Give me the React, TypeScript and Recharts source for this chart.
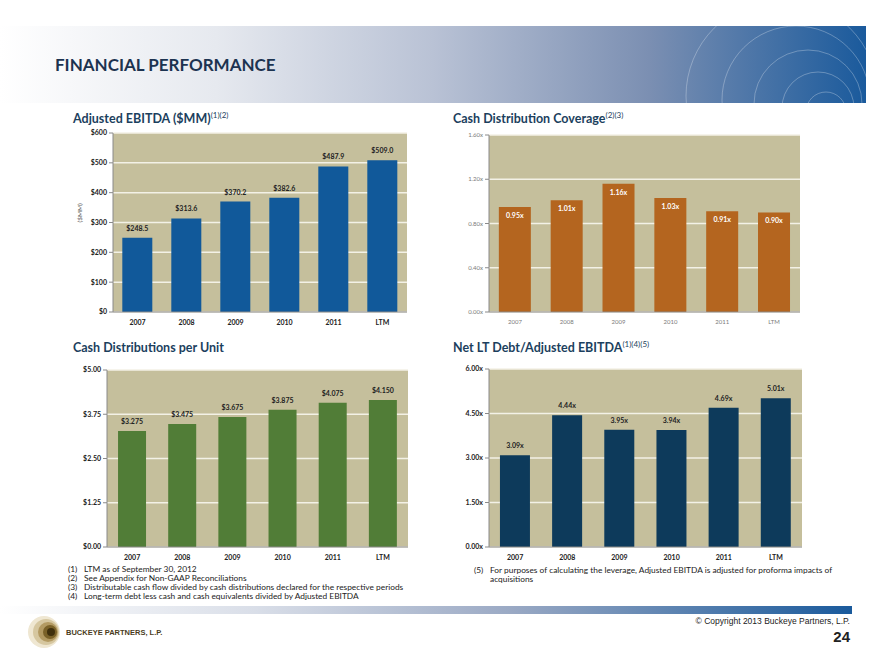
import React from 'react';
import { BarChart, Bar, XAxis, YAxis, CartesianGrid, LabelList } from 'recharts';

const categories = ['2007', '2008', '2009', '2010', '2011', 'LTM'];
const ebitdaValues = [248.5, 313.6, 370.2, 382.6, 487.9, 509.0];
const coverageValues = [0.95, 1.01, 1.16, 1.03, 0.91, 0.9];
const distributionValues = [3.275, 3.475, 3.675, 3.875, 4.075, 4.15];
const leverageValues = [3.09, 4.44, 3.95, 3.94, 4.69, 5.01];

const ebitdaTicks = [0, 100, 200, 300, 400, 500, 600];
const coverageTicks = [0, 0.4, 0.8, 1.2, 1.6];
const distributionTicks = [0, 1.25, 2.5, 3.75, 5];
const leverageTicks = [0, 1.5, 3, 4.5, 6];

const footnotesLeft = [
  ['(1)', 'LTM as of September 30, 2012'],
  ['(2)', 'See Appendix for Non-GAAP Reconciliations'],
  ['(3)', 'Distributable cash flow divided by cash distributions declared for the respective periods'],
  ['(4)', 'Long-term debt less cash and cash equivalents divided by Adjusted EBITDA'],
];
const footnoteRight = ['(5)', 'For purposes of calculating the leverage, Adjusted EBITDA is adjusted for proforma impacts of', 'acquisitions'];

const PLOT_BG = '#C5BF9C';
const GRID = '#F3F1E6';
const FONT = 'Lato, "Open Sans", sans-serif';

type PanelProps = {
  values: number[];
  ticks: number[];
  color: string;
  left: number;
  top: number;
  margin: { top: number; right: number; bottom: number; left: number };
  yWidth: number;
  gap: string;
  tickFmt: (v: number) => string;
  labelFmt: (v: number) => string;
  labelInside?: boolean;
  light?: boolean;
  yLabel?: string;
};

function Panel(p: PanelProps) {
  const data = categories.map((c, i) => ({ name: c, value: p.values[i] }));
  const tickStyle = p.light
    ? { fontSize: 6, fill: '#7a7a7a', fontFamily: FONT }
    : { fontSize: 7, fill: '#222', fontWeight: 700, fontFamily: FONT };
  return (
    <div style={{ position: 'absolute', left: p.left, top: p.top }}>
      <BarChart width={380} height={215} data={data} margin={p.margin} barCategoryGap={p.gap}>
        <CartesianGrid fill={PLOT_BG} vertical={false} stroke={GRID} strokeWidth={1.5} />
        <XAxis
          dataKey="name"
          tickLine={false}
          axisLine={{ stroke: '#8a8a8a' }}
          tick={tickStyle}
          height={18}
          interval={0}
        />
        <YAxis
          domain={[p.ticks[0], p.ticks[p.ticks.length - 1]]}
          ticks={p.ticks}
          tickFormatter={p.tickFmt}
          width={p.yWidth}
          axisLine={{ stroke: '#8a8a8a' }}
          tickLine={{ stroke: '#8a8a8a' }}
          tickSize={4}
          tick={tickStyle}
          label={
            p.yLabel
              ? { value: p.yLabel, angle: -90, position: 'insideLeft', offset: 17, style: { fontSize: 6.5, fill: '#666', fontFamily: FONT } }
              : undefined
          }
        />
        <Bar dataKey="value" fill={p.color} isAnimationActive={false}>
          <LabelList
            dataKey="value"
            position={p.labelInside ? 'insideTop' : 'top'}
            offset={p.labelInside ? 6 : 7}
            formatter={(v: any) => p.labelFmt(Number(v))}
            style={{
              fontSize: 7,
              fontWeight: 700,
              fill: p.labelInside ? '#ffffff' : '#222',
              fontFamily: FONT,
            }}
          />
        </Bar>
      </BarChart>
    </div>
  );
}

const titleStyle: React.CSSProperties = {
  position: 'absolute',
  fontFamily: FONT,
  fontWeight: 700,
  fontSize: 12.5,
  color: '#1C3F5E',
  whiteSpace: 'nowrap',
  lineHeight: '14px',
};
const supStyle: React.CSSProperties = { fontSize: 8, fontWeight: 400, verticalAlign: 'super', lineHeight: 0 };

export default function App() {
  return (
    <div style={{ position: 'absolute', left: 0, top: 0, width: 880, height: 660, background: '#fff', overflow: 'hidden' }}>
      <svg width={880} height={660} style={{ position: 'absolute', left: 0, top: 0 }}>
        <defs>
          <linearGradient id="hdr" x1="0" y1="0" x2="1" y2="0">
            <stop offset="0" stopColor="#ffffff" />
            <stop offset="0.25" stopColor="#e6e9ef" />
            <stop offset="0.5" stopColor="#b9c2d5" />
            <stop offset="0.75" stopColor="#7b8fb2" />
            <stop offset="1" stopColor="#1a5a9c" />
          </linearGradient>
          <linearGradient id="ftr" x1="0" y1="0" x2="1" y2="0">
            <stop offset="0" stopColor="#ffffff" />
            <stop offset="0.3" stopColor="#d9dee8" />
            <stop offset="0.6" stopColor="#9aa9c4" />
            <stop offset="1" stopColor="#1a5a9c" />
          </linearGradient>
          <clipPath id="hdrClip">
            <rect x={0} y={26} width={866} height={77} />
          </clipPath>
        </defs>
        <rect x={0} y={26} width={866} height={77} fill="url(#hdr)" />
        <g clipPath="url(#hdrClip)" fill="none" stroke="#ffffff" strokeOpacity={0.28} strokeWidth={1}>
          <circle cx={826} cy={112} r={20} />
          <circle cx={818} cy={108} r={36} />
          <circle cx={808} cy={104} r={54} />
          <circle cx={796} cy={100} r={74} />
          <circle cx={782} cy={96} r={96} />
        </g>
        <rect x={0} y={606} width={852} height={8} fill="url(#ftr)" />
        <circle cx={44} cy={632} r={16} fill="#efe7d2" />
        <circle cx={46} cy={632} r={13} fill="#d6c7a0" />
        <circle cx={48} cy={632} r={10} fill="#b39a62" />
        <circle cx={50} cy={632} r={7} fill="#7a6128" />
        <circle cx={51} cy={632} r={4} fill="#3f2f0c" />
        <text x={66} y={634.5} fontFamily="Arial, 'Liberation Sans', sans-serif" fontWeight={700} fontSize={7.5} fill="#4a3c1c">
          BUCKEYE PARTNERS, L.P.
        </text>
        <text x={850} y={624} textAnchor="end" fontFamily="Arial, 'Liberation Sans', sans-serif" fontSize={8.5} fill="#222">
          © Copyright 2013 Buckeye Partners, L.P.
        </text>
        <text x={850} y={642} textAnchor="end" fontFamily="Arial, 'Liberation Sans', sans-serif" fontWeight={700} fontSize={15} fill="#222">
          24
        </text>
        {footnotesLeft.map((f, i) => (
          <g key={i} fontFamily={FONT} fontSize={8.35} fill="#222">
            <text x={68} y={572 + i * 9}>{f[0]}</text>
            <text x={84} y={572 + i * 9}>{f[1]}</text>
          </g>
        ))}
        <g fontFamily={FONT} fontSize={8.35} fill="#222">
          <text x={474} y={573}>{footnoteRight[0]}</text>
          <text x={490} y={573}>{footnoteRight[1]}</text>
          <text x={490} y={582}>{footnoteRight[2]}</text>
        </g>
      </svg>

      <div
        style={{
          position: 'absolute',
          left: 55,
          top: 54,
          fontFamily: FONT,
          fontWeight: 700,
          fontSize: 17,
          color: '#1C3350',
          whiteSpace: 'nowrap',
        }}
      >
        FINANCIAL PERFORMANCE
      </div>

      <div style={{ ...titleStyle, left: 73, top: 112 }}>
        Adjusted EBITDA ($MM)<span style={supStyle}>(1)(2)</span>
      </div>
      <div style={{ ...titleStyle, left: 453, top: 112 }}>
        Cash Distribution Coverage<span style={supStyle}>(2)(3)</span>
      </div>
      <div style={{ ...titleStyle, left: 73, top: 341 }}>Cash Distributions per Unit</div>
      <div style={{ ...titleStyle, left: 453, top: 341 }}>
        Net LT Debt/Adjusted EBITDA<span style={supStyle}>(1)(4)(5)</span>
      </div>

      <Panel
        values={ebitdaValues}
        ticks={ebitdaTicks}
        color="#11599A"
        left={40}
        top={120}
        margin={{ top: 13, right: 13, bottom: 5, left: 23 }}
        yWidth={50}
        gap="19%"
        tickFmt={(v) => '$' + v}
        labelFmt={(v) => '$' + v.toFixed(1)}
        yLabel="($MM)"
      />
      <Panel
        values={coverageValues}
        ticks={coverageTicks}
        color="#B4651F"
        left={440}
        top={120}
        margin={{ top: 15, right: 20, bottom: 5, left: 9 }}
        yWidth={40}
        gap="19%"
        tickFmt={(v) => v.toFixed(2) + 'x'}
        labelFmt={(v) => v.toFixed(2) + 'x'}
        labelInside
        light
      />
      <Panel
        values={distributionValues}
        ticks={distributionTicks}
        color="#517D37"
        left={40}
        top={355}
        margin={{ top: 15, right: 12, bottom: 5, left: 22 }}
        yWidth={45}
        gap="22%"
        tickFmt={(v) => '$' + v.toFixed(2)}
        labelFmt={(v) => '$' + v.toFixed(3)}
      />
      <Panel
        values={leverageValues}
        ticks={leverageTicks}
        color="#0D3A5B"
        left={440}
        top={355}
        margin={{ top: 14, right: 18, bottom: 5, left: 9 }}
        yWidth={40}
        gap="21%"
        tickFmt={(v) => v.toFixed(2) + 'x'}
        labelFmt={(v) => v.toFixed(2) + 'x'}
      />
    </div>
  );
}
